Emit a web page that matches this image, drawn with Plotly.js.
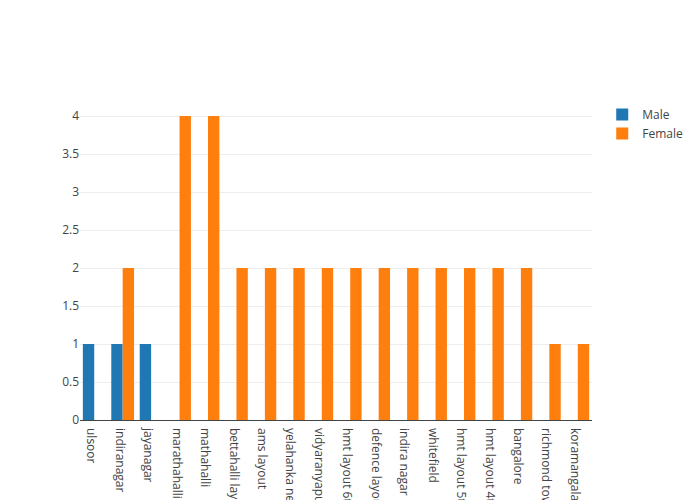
<!DOCTYPE html>
<html>
<head>
<meta charset="utf-8">
<script src="https://cdn.plot.ly/plotly-3.0.1.min.js"></script>
<style>html,body{margin:0;padding:0;}#chart{width:700px;height:500px;}</style>
</head>
<body>
<div id="chart"></div>
<script>
var categories = ["ulsoor", "indiranagar", "jayanagar", "marathahalli", "mathahalli",
  "bettahalli layout", "ams layout", "yelahanka new town", "vidyaranyapura",
  "hmt layout 6th phase", "defence layout", "indira nagar", "whitefield",
  "hmt layout 5th phase", "hmt layout 4th phase", "bangalore", "richmond town", "koramangala"];
var maleValues = [1, 1, 1, null, null, null, null, null, null, null, null, null, null, null, null, null, null, null];
var femaleValues = [null, 2, null, 4, 4, 2, 2, 2, 2, 2, 2, 2, 2, 2, 2, 2, 1, 1];

var data = [
  {type: "bar", name: "Male", x: categories, y: maleValues, marker: {color: "#1f77b4"}},
  {type: "bar", name: "Female", x: categories, y: femaleValues, marker: {color: "#ff7f0e"}}
];
var layout = {
  width: 700, height: 500,
  barmode: "group",
  xaxis: {tickangle: 90, type: "category", ticklabelstandoff: 7, ticklabelshift: -3},
  yaxis: {},
  font: {family: "Open Sans, sans-serif"}
};
Plotly.newPlot("chart", data, layout, {displayModeBar: false});
</script>
</body>
</html>
